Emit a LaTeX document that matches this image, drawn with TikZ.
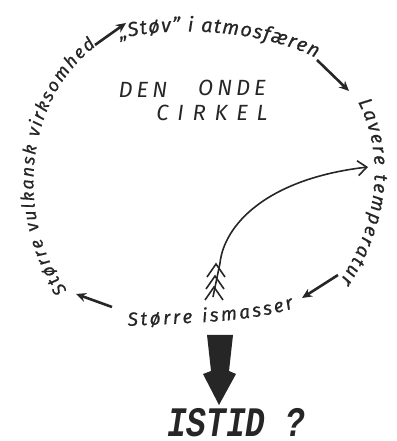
\documentclass[tikz,border=0pt]{standalone}
\usepackage{fontspec}
\setmainfont{Fira Sans}
\newfontfamily\istidfont[FakeStretch=0.78]{Liberation Mono}
\usetikzlibrary{decorations.text,arrows.meta}
\definecolor{ink}{HTML}{262626}
\tikzset{
  x=1pt,y=1pt,
  ink arrow/.style={draw=ink, line width=2.6pt, -{Stealth[length=10pt,width=9pt]}},
  barb arrow/.style={draw=ink, line width=1.6pt, -{Straight Barb[length=9pt,width=15pt]}},
  fletch/.style={draw=ink, line width=1.6pt},
  arc text/.style={decorate, decoration={text along path, text align={fit to path}, text color=ink, #1}},
  title text/.style={text=ink, font=\fontsize{22}{22}\selectfont\itshape\addfontfeature{LetterSpace=#1}},
  title text/.default=18,
}
\begin{document}
\begin{tikzpicture}
\useasboundingbox (0,0) rectangle (396,441);
% texts along the circle
\path[arc text={text={|\fontsize{20}{20}\selectfont\itshape\addfontfeature{FakeBold=0.6}|„Støv" i atmosfæren}}]
  (120,402) .. controls (170,416) and (262,411) .. (316,383);
\path[arc text={text={|\fontsize{19}{19}\selectfont\itshape\addfontfeature{FakeBold=0.6}|Lavere temperatur}}]
  (358,339) .. controls (383,290) and (382,225) .. (340,160);
\path[arc text={text={|\fontsize{19}{19}\selectfont\itshape\addfontfeature{FakeBold=0.6}|Større ismasser}}]
  (128,115) .. controls (180,118) and (250,118) .. (294,133);
\path[arc text={text={|\fontsize{18}{18}\selectfont\itshape\addfontfeature{FakeBold=0.6}|Større vulkansk virksomhed}}]
  (67,151) .. controls (20,210) and (16,334) .. (96,395);
% centre title
\node[title text] (den) at (143,351) {DEN};
\node[title text] (onde) at (232,353) {ONDE};
\node[title text=40] (cirkel) at (212,328) {CIRKEL};
% arrows around the circle
\coordinate (a1s) at (95,396);  \coordinate (a1e) at (126,418);
\coordinate (a2s) at (317,381); \coordinate (a2e) at (349,350);
\coordinate (a3s) at (338,166); \coordinate (a3e) at (302,143);
\coordinate (a4s) at (112,134); \coordinate (a4e) at (76,147);
\draw[ink arrow] (a1s) -- (a1e);
\draw[ink arrow] (a2s) -- (a2e);
\draw[ink arrow] (a3s) -- (a3e);
\draw[ink arrow] (a4s) -- (a4e);
% curved feedback arrow
\coordinate (ctail) at (213,144);
\coordinate (cbend) at (220,178);
\coordinate (chead) at (368,274);
\draw[barb arrow] (ctail) -- (cbend) .. controls (224,215) and (265,262) .. (chead);
\foreach \ax/\ay in {216/177, 215/165, 214/154}
  \draw[fletch] (\ax-9,\ay-13) -- (\ax,\ay) -- (\ax+9,\ay-13);
% big arrow to ISTID
\fill[ink] (207,106) -- (233,106) -- (229,70) -- (236,67) -- (219,36) -- (203,67) -- (211,70) -- cycle;
\node[text=ink, anchor=base, inner sep=0pt, font=\istidfont\bfseries\itshape\fontsize{42}{42}\selectfont] (istid) at (236,5) {ISTID ?};
\end{tikzpicture}
\end{document}
